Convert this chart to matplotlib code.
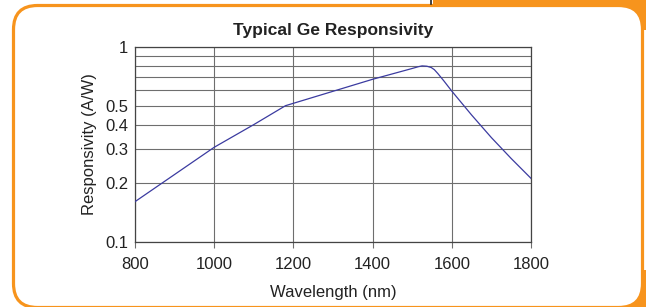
import matplotlib
matplotlib.use('Agg')
import matplotlib.pyplot as plt
from matplotlib.patches import FancyBboxPatch, Rectangle
from matplotlib.ticker import FixedLocator, NullFormatter

plt.rcParams['font.family'] = ['Liberation Sans', 'DejaVu Sans']

# Typical Ge responsivity curve
wavelength = [800, 1000, 1100, 1180, 1400, 1500, 1515, 1525, 1537, 1548, 1556, 1565, 1580, 1600, 1650, 1700, 1750, 1800]
responsivity = [0.161, 0.306, 0.40, 0.50, 0.683, 0.776, 0.792, 0.80, 0.797, 0.785, 0.765, 0.73, 0.67, 0.594, 0.448, 0.343, 0.268, 0.212]

x_ticks = [800, 1000, 1200, 1400, 1600, 1800]
y_ticks = [0.1, 0.2, 0.3, 0.4, 0.5, 1]
y_tick_labels = ['0.1', '0.2', '0.3', '0.4', '0.5', '1']
y_grid_extra = [0.6, 0.7, 0.8, 0.9]

orange = '#f7941d'

fig = plt.figure(figsize=(6.46, 3.07), dpi=100)

# background frame, drawn in pixel coordinates
bg = fig.add_axes([0, 0, 1, 1], zorder=0)
bg.set_xlim(0, 646)
bg.set_ylim(307, 0)
bg.axis('off')
bg.add_patch(Rectangle((433, 0), 213, 30, color=orange, lw=0))
bg.add_patch(Rectangle((600, 270), 46, 37, color=orange, lw=0))
bg.plot([431, 431], [0, 4], color='#222222', lw=1.2)
bg.add_patch(FancyBboxPatch((13.5, 5.5), 629, 302,
                            boxstyle='round,pad=0,rounding_size=24',
                            facecolor='white', edgecolor=orange, lw=2.3))

# the chart itself
ax = fig.add_axes([135/646, 65/307, 396/646, 195/307], zorder=1)
ax.plot(wavelength, responsivity, color='#3b3ba0', lw=0.9, zorder=3)
ax.set_yscale('log')
ax.set_xlim(800, 1800)
ax.set_ylim(0.1, 1)

ax.set_xticks(x_ticks)
ax.yaxis.set_major_locator(FixedLocator(y_ticks))
ax.set_yticklabels(y_tick_labels)
ax.yaxis.set_minor_locator(FixedLocator(y_grid_extra))
ax.yaxis.set_minor_formatter(NullFormatter())

ax.grid(True, which='both', color='#6e6e6e', lw=0.8)
ax.tick_params(axis='x', length=4, width=0.8, color='#6e6e6e', pad=7, labelsize=12, labelcolor='#222222')
ax.tick_params(axis='y', which='both', length=0, pad=5, labelsize=12, labelcolor='#222222')
for s in ax.spines.values():
    s.set_color('#444444')
    s.set_linewidth(0.9)

ax.set_title('Typical Ge Responsivity', fontsize=12.5, fontweight='bold', color='#222222', pad=9)
ax.set_xlabel('Wavelength (nm)', fontsize=12, color='#222222', labelpad=9)
ax.set_ylabel('Responsivity (A/W)', fontsize=12, color='#222222', labelpad=6)

fig.savefig('out.png', dpi=100)
